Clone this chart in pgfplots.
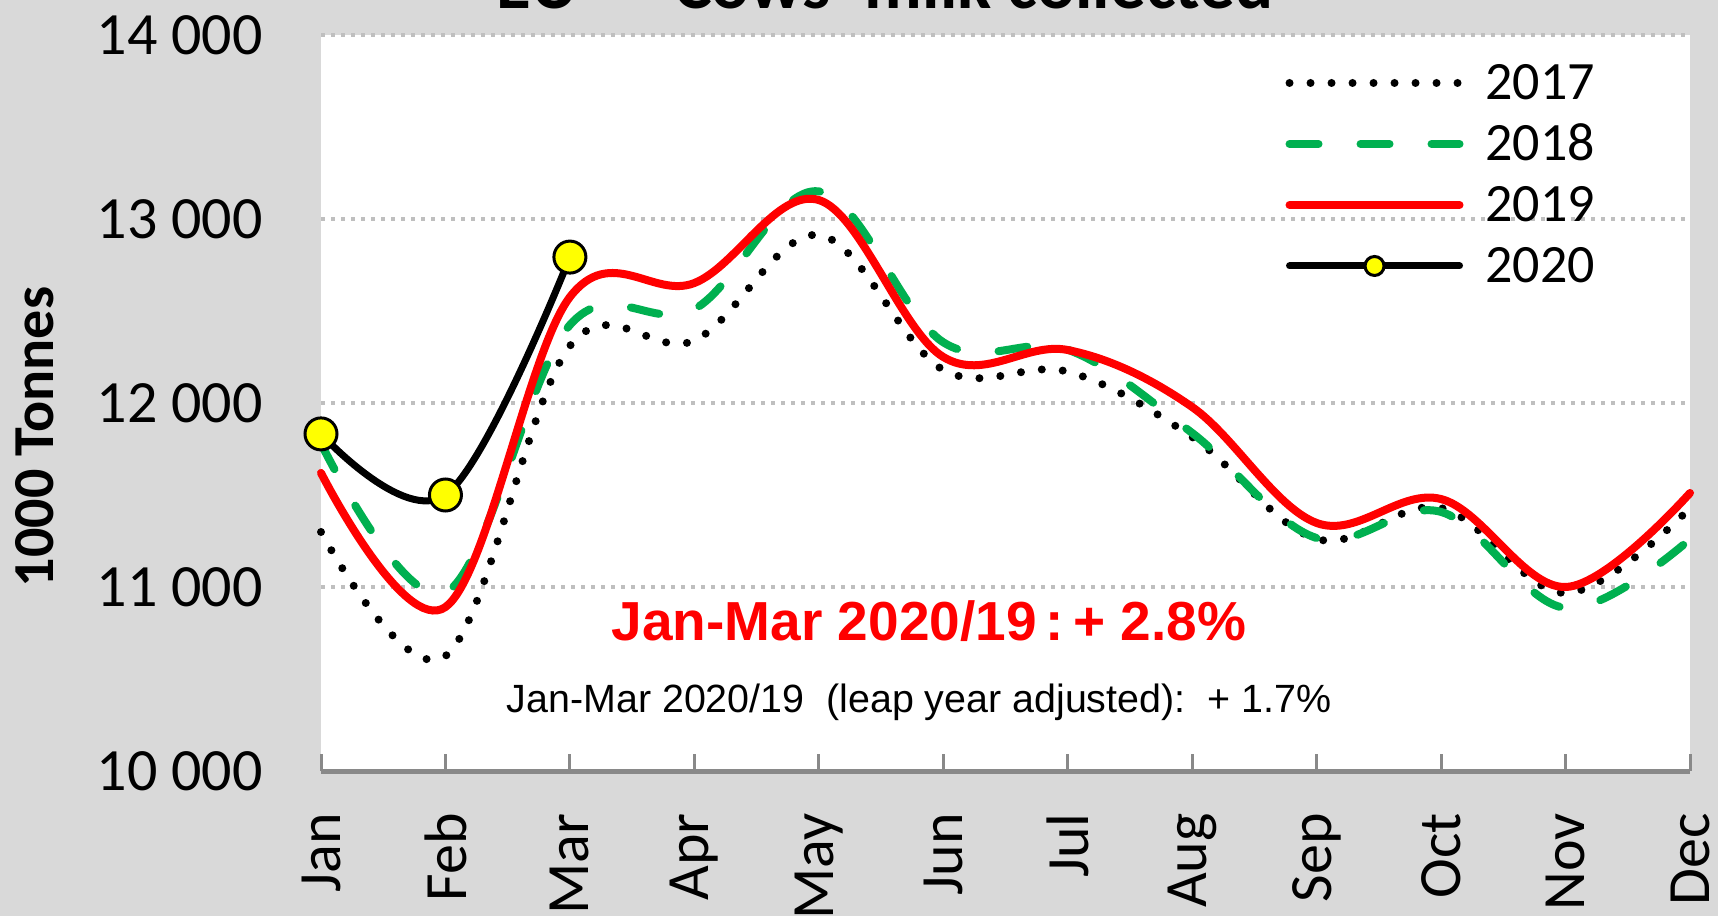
\documentclass[border=0pt]{standalone}
\usepackage{pgfplots}
\pgfplotsset{compat=1.18}
\usepackage{fontspec}
\setmainfont{Carlito}
\newfontfamily\arialfont{Liberation Sans}
\definecolor{bggray}{HTML}{D9D9D9}
\definecolor{gridgray}{HTML}{BFBFBF}
\definecolor{axgray}{HTML}{898989}
\definecolor{xlgreen}{HTML}{00B050}
\definecolor{xlred}{HTML}{FF0000}
\definecolor{xlyellow}{HTML}{FFFF00}
\pgfplotsset{
  long legend/.style={legend image code/.code={\draw[mark repeat=2,mark phase=2,##1] plot coordinates {(0pt,0pt) (42.5pt,0pt) (85pt,0pt)};}},
  smallmark legend/.style={legend image code/.code={\draw[mark repeat=2,mark phase=2,##1,mark size=4.75pt] plot coordinates {(0pt,0pt) (42.5pt,0pt) (85pt,0pt)};}},
}
\begin{document}
\begin{tikzpicture}
\useasboundingbox (0,0) rectangle (859pt,458pt);
\begin{scope}
\clip (0,0) rectangle (859pt,458pt);
\fill[bggray] (0,0) rectangle (859pt,458pt);
\begin{axis}[
  at={(160.5pt,72.5pt)}, anchor=south west,
  scale only axis, width=684.5pt, height=368pt,
  xmin=1, xmax=12, ymin=10000, ymax=14000,
  clip=false,
  scaled y ticks=false, scaled x ticks=false,
  axis background/.style={fill=white},
  axis x line*=bottom, axis y line*=left,
  y axis line style={draw=none},
  x axis line style={draw=axgray, line width=2.5pt, -},
  tick align=inside, major tick length=8.5pt,
  xtick={1,...,12},
  xticklabels={Jan,Feb,Mar,Apr,May,Jun,Jul,Aug,Sep,Oct,Nov,Dec},
  xticklabel style={rotate=90, anchor=east, inner sep=0pt, font=\fontsize{30}{36}\selectfont},
  xticklabel shift=21pt,
  x tick style={draw=axgray, line width=1.5pt},
  ytick={10000,11000,12000,13000,14000},
  yticklabels={10 000,11 000,12 000,13 000,14 000},
  yticklabel style={anchor=east, inner sep=0pt, font=\fontsize{30}{36}\selectfont},
  yticklabel shift=29pt,
  y tick style={draw=none},
  ymajorgrids,
  major grid style={draw=gridgray, line width=2pt, dash pattern=on 2pt off 3pt},
  legend style={at={(axis cs:8.75,13905)}, anchor=north west, draw=none, fill=none,
    inner sep=0pt, outer sep=0pt, row sep=0pt, column sep=0pt,
    font=\fontsize{27}{32}\selectfont,
    nodes={inner sep=0pt, minimum height=30.5pt, text height=17pt, text depth=0pt},
    /tikz/every odd column/.append style={column sep=11pt}},
  legend cell align=left,
  long legend,
]
\addplot[black, line width=4pt, dash pattern=on 0pt off 10.5pt, line cap=round, smooth, tension=0.6] coordinates {
(1,11299) (2,10625) (3,12310) (4,12340) (5,12913) (6,12180) (7,12170) (8,11815) (9,11261) (10,11429) (11,10967) (12,11429)};
\addlegendentry{2017}
\addplot[xlgreen, line width=4pt, dash pattern=on 14.5pt off 21pt, line cap=round, smooth, tension=0.6] coordinates {
(1,11780) (2,10970) (3,12424) (4,12510) (5,13150) (6,12330) (7,12290) (8,11837) (9,11266) (10,11408) (11,10886) (12,11260)};
\addlegendentry{2018}
\addplot[xlred, line width=4pt, line cap=round, smooth, tension=0.6] coordinates {
(1,11620) (2,10891) (3,12576) (4,12652) (5,13103) (6,12250) (7,12288) (8,11978) (9,11348) (10,11478) (11,11000) (12,11511)};
\addlegendentry{2019}
\addplot[black, line width=3.5pt, line cap=round, smooth, tension=0.6, mark=*, mark size=8pt,
  mark options={fill=xlyellow, draw=black, line width=1.5pt, solid}, smallmark legend] coordinates {
(1,11832) (2,11500) (3,12793)};
\addlegendentry{2020}
\end{axis}
\node[anchor=base, font=\arialfont\bfseries\fontsize{27.5}{33}\selectfont, text=xlred, inner sep=0pt] at (464.5pt,137.5pt) {Jan-Mar 2020/19\,:\,+ 2.8\%};
\node[anchor=base, font=\arialfont\fontsize{19.7}{24}\selectfont, inner sep=0pt] at (459.5pt,102pt) {Jan-Mar 2020/19\ \ (leap year adjusted):\ \ + 1.7\%};
\node[rotate=90, font=\bfseries\fontsize{29}{35}\selectfont, inner sep=0pt] at (17.5pt,239.5pt) {1000 Tonnes};
\node[anchor=base, font=\bfseries\fontsize{35.5}{42}\selectfont, inner sep=0pt] at (442.5pt,453.5pt) {EU --- Cows' milk collected};
\end{scope}
\end{tikzpicture}
\end{document}
